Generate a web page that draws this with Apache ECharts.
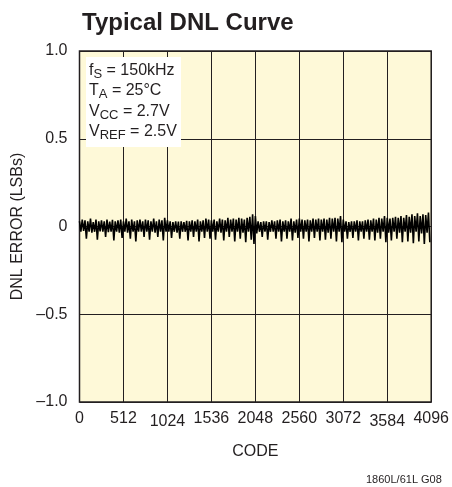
<!DOCTYPE html>
<html>
<head>
<meta charset="utf-8">
<script src="https://cdn.jsdelivr.net/npm/echarts@6/dist/echarts.min.js"></script>
<style>
html,body{margin:0;padding:0;background:#fff;}
#c{width:452px;height:487px;}
</style>
</head>
<body>
<div id="c"></div>
<script>
var codeStep = 16;
var dnlValues = [
 0.03,-0.03,0.04,-0.025,0.035,-0.07,0.03,-0.03,0.045,-0.035,0.025,-0.03,0.04,-0.075,0.03,-0.028,
 0.035,-0.03,0.03,-0.06,0.04,-0.032,0.028,-0.03,0.038,-0.08,0.03,-0.03,0.035,-0.035,0.04,-0.065,
 0.03,-0.03,0.045,-0.035,0.03,-0.07,0.04,-0.03,0.03,-0.085,0.035,-0.03,0.04,-0.03,0.03,-0.06,
 0.04,-0.03,0.035,-0.075,0.03,-0.03,0.045,-0.035,0.03,-0.06,0.04,-0.03,0.035,-0.08,0.05,-0.03,
 0.035,-0.03,0.03,-0.065,0.025,-0.03,0.03,-0.035,0.028,-0.07,0.03,-0.03,0.025,-0.03,0.032,-0.08,
 0.03,-0.03,0.035,-0.06,0.03,-0.03,0.04,-0.085,0.03,-0.03,0.035,-0.065,0.045,-0.03,0.04,-0.07,
 0.035,-0.03,0.04,-0.075,0.03,-0.03,0.045,-0.035,0.04,-0.08,0.035,-0.03,0.05,-0.06,0.04,-0.03,
 0.045,-0.085,0.04,-0.03,0.05,-0.07,0.045,-0.035,0.04,-0.09,0.05,-0.03,0.055,-0.075,0.07,-0.1,
 0.06,-0.04,0.03,-0.03,0.025,-0.06,0.03,-0.03,0.03,-0.075,0.025,-0.03,0.035,-0.03,0.03,-0.07,
 0.035,-0.03,0.04,-0.085,0.03,-0.03,0.035,-0.07,0.03,-0.03,0.045,-0.08,0.03,-0.035,0.04,-0.065,
 0.045,-0.03,0.04,-0.07,0.035,-0.03,0.04,-0.085,0.035,-0.03,0.045,-0.065,0.04,-0.03,0.045,-0.08,
 0.04,-0.03,0.045,-0.075,0.04,-0.035,0.05,-0.07,0.045,-0.03,0.05,-0.085,0.045,-0.03,0.06,-0.09,
 0.04,-0.03,0.03,-0.07,0.025,-0.03,0.03,-0.065,0.03,-0.03,0.035,-0.08,0.03,-0.03,0.03,-0.07,
 0.035,-0.03,0.04,-0.075,0.035,-0.03,0.045,-0.08,0.04,-0.035,0.05,-0.07,0.045,-0.03,0.06,-0.09,
 0.05,-0.035,0.045,-0.08,0.05,-0.03,0.055,-0.07,0.05,-0.035,0.06,-0.09,0.05,-0.03,0.065,-0.085,
 0.055,-0.035,0.07,-0.095,0.06,-0.03,0.075,-0.085,0.06,-0.04,0.07,-0.1,0.065,-0.035,0.08,-0.09
];
var xTicks = [0,512,1024,1536,2048,2560,3072,3584,4096];
var yTicks = [-1.0,-0.5,0,0.5,1.0];
var yTickLabels = ['–1.0','–0.5','0','0.5','1.0'];

var seriesData = dnlValues.map(function(v,i){ return [i*codeStep, v]; });

var FONT = '"Liberation Sans",Arial,sans-serif';
var chart = echarts.init(document.getElementById('c'), null, {renderer:'canvas'});
chart.setOption({
  animation:false,
  backgroundColor:'#ffffff',
  title:{
    text:'Typical DNL Curve', left:77, top:6,
    textStyle:{fontFamily:FONT, fontWeight:'bold', fontSize:24, color:'#231f20'}
  },
  grid:{left:79.5, right:20, top:51, bottom:85, show:true, backgroundColor:'#fef9d8', borderColor:'#231f20', borderWidth:1.5},
  xAxis:{
    type:'value', min:0, max:4096, interval:512,
    name:'CODE', nameLocation:'middle', nameGap:42,
    nameTextStyle:{fontFamily:FONT, fontSize:16, color:'#231f20'},
    axisLine:{show:false}, axisTick:{show:false},
    splitLine:{show:true, lineStyle:{color:'#231f20', width:1}},
    axisLabel:{
      margin:9, fontFamily:FONT, fontSize:16, color:'#231f20',
      formatter:function(v){ return (v===1024||v===3584) ? '{d|'+v+'}' : String(v); },
      rich:{d:{fontFamily:FONT, fontSize:16, color:'#231f20', padding:[3,0,0,0]}}
    }
  },
  yAxis:{
    type:'value', min:-1, max:1, interval:0.5,
    name:'DNL ERROR (LSBs)', nameLocation:'middle', nameGap:54, nameRotate:90,
    nameTextStyle:{fontFamily:FONT, fontSize:16, color:'#231f20'},
    axisLine:{show:false}, axisTick:{show:false},
    splitLine:{show:true, lineStyle:{color:'#231f20', width:1}},
    axisLabel:{
      margin:12, fontFamily:FONT, fontSize:16, color:'#231f20',
      formatter:function(v){ var i = yTicks.indexOf(v); return i>=0 ? yTickLabels[i] : ''; }
    }
  },
  series:[{
    type:'line', data:seriesData, showSymbol:false, symbol:'none',
    lineStyle:{color:'#000000', width:1.6}, z:3
  }],
  graphic:[
    {type:'rect', shape:{x:86, y:57, width:95, height:90}, style:{fill:'#ffffff'}, z:10},
    {type:'text', left:89, top:60, z:11, style:{
      text:'f{s|S} = 150kHz\nT{s|A} = 25°C\nV{s|CC} = 2.7V\nV{s|REF} = 2.5V',
      font:'16px '+FONT, fill:'#231f20', lineHeight:20.5,
      rich:{s:{fontFamily:FONT, fontSize:13, fill:'#231f20', verticalAlign:'bottom', padding:[6,0,0,0]}}
    }},
    {type:'text', left:366, top:474, z:11, style:{text:'1860L/61L G08', font:'11px '+FONT, fill:'#231f20'}}
  ]
});
</script>
</body>
</html>
